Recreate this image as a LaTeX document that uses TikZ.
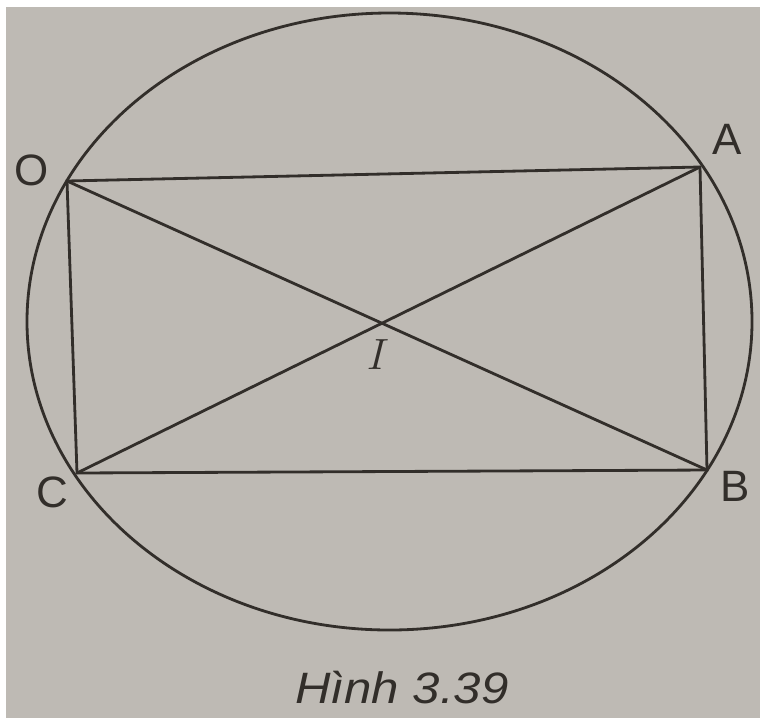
\documentclass[tikz,border=0pt]{standalone}
\usepackage{fontspec}
\setsansfont{Liberation Sans}
\usepackage{tikz}
\usetikzlibrary{positioning, calc}

\definecolor{paper}{RGB}{190,186,180}
\definecolor{ink}{RGB}{50,46,42}

\begin{document}
\begin{tikzpicture}[
    x=0.02cm, y=-0.02cm,
    edge/.style={draw=ink, line width=1.6pt},
    lbl/.style={text=ink, font=\sffamily\fontsize{25}{28}\selectfont, inner sep=0pt},
    figcaption/.style={text=ink, font=\sffamily\itshape\fontsize{25}{28}\selectfont, inner sep=0pt, xscale=1.12}
]
    % page and photo background
    \fill[white] (0,0) rectangle (760,718);
    \fill[paper] (6,7) rectangle (760,718);
    \useasboundingbox (0,0) rectangle (760,718);

    % vertices of the rectangle
    \coordinate (O) at (67,181);
    \coordinate (A) at (700,167);
    \coordinate (B) at (707,470);
    \coordinate (C) at (77,473);
    \coordinate (I) at ($(O)!0.5!(B)$);

    % circumscribed circle
    \draw[edge] (389.5,321.5) ellipse (362.5 and 308.5);

    \draw[edge] (O) -- (A) -- (B) -- (C) -- cycle;
    \draw[edge] (O) -- (B);
    \draw[edge] (A) -- (C);

    \node[lbl] (lO) at (32,170) {O};
    \node[lbl] (lA) at (727,139) {A};
    \node[lbl] (lB) at (735,486) {B};
    \node[lbl] (lC) at (52,492) {C};
    \node[text=ink, font=\fontsize{27}{30}\selectfont, inner sep=0pt] (lI) at (378,355) {$I$};

    \node[figcaption] (hinh) at (402,688) {Hình 3.39};
\end{tikzpicture}
\end{document}
